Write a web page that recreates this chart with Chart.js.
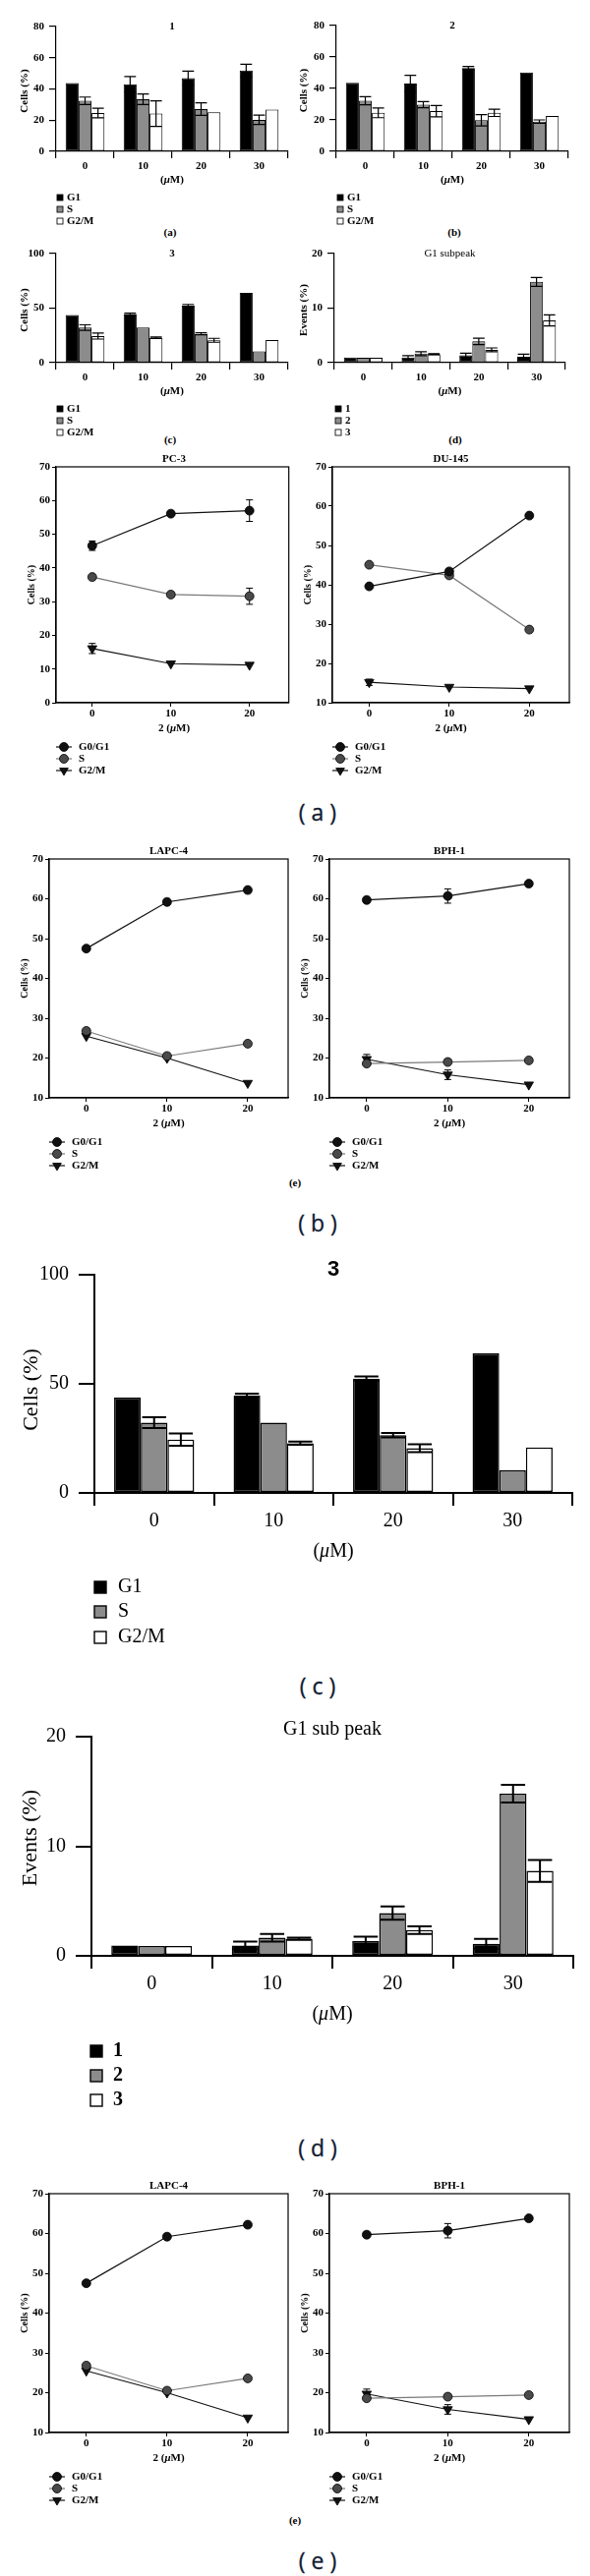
<!DOCTYPE html>
<html>
<head>
<meta charset="utf-8">
<script src="https://cdn.jsdelivr.net/npm/chart.js@4.4.1/dist/chart.umd.min.js"></script>
<style>
  body { margin: 0; width: 600px; height: 2621px; background: #fff; position: relative; overflow: hidden; }
  canvas { position: absolute; }
  .tag { position: absolute; transform: translate(-50%, -50%); white-space: nowrap; }
  .small { font: bold 11px "Liberation Serif", serif; color: #000; }
  .big { font: 23px "Open Sans", sans-serif; color: #101a33; -webkit-text-stroke: 0.3px #101a33; }
</style>
</head>
<body>
<div class="tag small" style="left:173px;top:236px">(a)</div>
<div class="tag small" style="left:462px;top:236px">(b)</div>
<div class="tag small" style="left:173px;top:447px">(c)</div>
<div class="tag small" style="left:463px;top:447px">(d)</div>
<div class="tag big" style="left:323px;top:826px">( a )</div>
<div class="tag small" style="left:300px;top:1203px">(e)</div>
<div class="tag big" style="left:323px;top:1244px">( b )</div>
<div class="tag big" style="left:323px;top:1715px">( c )</div>
<div class="tag big" style="left:323px;top:2185px">( d )</div>
<div class="tag small" style="left:300px;top:2564px">(e)</div>
<div class="tag big" style="left:323px;top:2605px">( e )</div>
<script>
// bar panels: dose groups and phases
const doses = ['0', '10', '20', '30'];
const phases = ['G1', 'S', 'G2/M'];
const compounds = ['1', '2', '3'];

// compound 1, cells (%)
const c1G1 = [43.8, 43.0, 47.0, 51.8];
const c1G1Err = [0, 5.0, 4.4, 4.0];
const c1S = [32.4, 33.4, 27.1, 20.2];
const c1SErr = [2.4, 3.4, 4.0, 3.0];
const c1G2M = [24.6, 24.2, 25.0, 26.7];
const c1G2MErr = [3.1, 8.2, 0, 0];

// compound 2
const c2G1 = [43.6, 43.2, 53.0, 50.1];
const c2G1Err = [0, 5.2, 1.0, 0];
const c2S = [32.2, 29.7, 19.8, 18.9];
const c2SErr = [2.6, 2.0, 3.6, 1.1];
const c2G2M = [24.5, 25.6, 24.5, 22.5];
const c2G2MErr = [3.1, 3.6, 2.3, 0];

// compound 3
const c3G1 = [43.7, 44.7, 52.4, 64.0];
const c3G1Err = [0, 0.8, 1.0, 0];
const c3S = [32.2, 32.2, 26.5, 10.4];
const c3SErr = [2.5, 0, 1.0, 0];
const c3G2M = [24.4, 22.8, 20.5, 20.8];
const c3G2MErr = [2.8, 0.7, 1.8, 0];

// G1 sub peak, events (%)
const sub1 = [0.95, 0.95, 1.35, 1.1];
const sub1Err = [0, 0.35, 0.4, 0.45];
const sub2 = [0.9, 1.65, 3.9, 14.8];
const sub2Err = [0, 0.35, 0.6, 0.8];
const sub3 = [0.9, 1.55, 2.35, 7.75];
const sub3Err = [0, 0.1, 0.35, 1.0];

// line panels: concentration of 2 (uM)
const conc = [0, 10, 20];
const linePhases = ['G0/G1', 'S', 'G2/M'];
const xTicks = [0, 10, 20];

const pc3G1 = [46.6, 56.1, 57.0];
const pc3G1Err = [1.4, 0, 3.2];
const pc3S = [37.3, 32.1, 31.6];
const pc3SErr = [0, 0.7, 2.4];
const pc3G2M = [16.1, 11.6, 11.2];
const pc3G2MErr = [1.5, 0, 0];

const du145G1 = [39.6, 43.4, 57.6];
const du145S = [45.1, 42.4, 28.6];
const du145G2M = [15.2, 14.0, 13.6];
const du145G2MErr = [0.8, 0, 0];

const lapc4G1 = [47.5, 59.2, 62.2];
const lapc4S = [26.8, 20.5, 23.6];
const lapc4G2M = [25.5, 20.0, 13.7];

const bph1G1 = [59.7, 60.7, 63.8];
const bph1G1Err = [0, 1.8, 0];
const bph1S = [18.6, 19.0, 19.4];
const bph1G2M = [19.7, 15.8, 13.3];
const bph1G2MErr = [1.2, 1.2, 0];

const SERIF = '"Liberation Serif", "DejaVu Serif", serif';
const FILLS = ['#000000', '#8c8c8c', '#ffffff'];
const LINE_COL = ['#111111', '#7a7a7a', '#111111'];
const MARK_COL = ['#111111', '#4a4a4a', '#111111'];

function place(box) {
    const c = document.createElement('canvas');
    c.width = box.w;
    c.height = box.h;
    c.style.left = box.x + 'px';
    c.style.top = box.y + 'px';
    document.body.appendChild(c);
    return c;
}

// text with an italic mu
function drawText(ctx, s, x, y, font, align, rot) {
    ctx.save();
    ctx.translate(x, y);
    if (rot) ctx.rotate(-Math.PI / 2);
    ctx.textBaseline = 'middle';
    ctx.textAlign = 'left';
    const segs = [];
    s.split('μ').forEach((p, i) => {
        if (i) segs.push(['μ', 'italic ' + font]);
        if (p) segs.push([p, font]);
    });
    let w = 0;
    segs.forEach(sg => { ctx.font = sg[1]; sg.push(ctx.measureText(sg[0]).width); w += sg[2]; });
    let cx = align === 'left' ? 0 : -w / 2;
    segs.forEach(sg => { ctx.font = sg[1]; ctx.fillText(sg[0], cx, 0); cx += sg[2]; });
    ctx.restore();
}

function drawMarker(ctx, tri, x, y, r, fill) {
    ctx.fillStyle = fill;
    ctx.strokeStyle = '#000';
    ctx.lineWidth = 0.8;
    ctx.beginPath();
    if (tri) {
        ctx.moveTo(x, y + r);
        ctx.lineTo(x - r * 0.87, y - r * 0.5);
        ctx.lineTo(x + r * 0.87, y - r * 0.5);
        ctx.closePath();
    } else {
        ctx.arc(x, y, r, 0, Math.PI * 2);
    }
    ctx.fill();
    ctx.stroke();
}

function drawErrors(chart, lw) {
    const ctx = chart.ctx, ys = chart.scales.y;
    ctx.save();
    ctx.strokeStyle = '#000';
    ctx.lineWidth = lw;
    chart.data.datasets.forEach((ds, i) => {
        if (!ds.errors) return;
        chart.getDatasetMeta(i).data.forEach((el, j) => {
            const e = ds.errors[j];
            if (!e) return;
            const d = ds.data[j];
            const v = typeof d === 'object' ? d.y : d;
            const top = ys.getPixelForValue(v + e), bot = ys.getPixelForValue(v - e);
            const half = el.width ? el.width * 0.45 : 3.5;
            ctx.beginPath();
            ctx.moveTo(el.x, top); ctx.lineTo(el.x, bot);
            ctx.moveTo(el.x - half, top); ctx.lineTo(el.x + half, top);
            ctx.moveTo(el.x - half, bot); ctx.lineTo(el.x + half, bot);
            ctx.stroke();
        });
    });
    ctx.restore();
}

// titles, axis titles, legend and error bars
function extras(box, o) {
    return {
        id: 'extras',
        beforeDatasetsDraw(chart) { if (o.line) drawErrors(chart, 1); },
        afterDatasetsDraw(chart) { if (!o.line) drawErrors(chart, o.lw); },
        afterDraw(chart) {
            const ctx = chart.ctx, a = chart.chartArea;
            ctx.save();
            if (o.line) {
                ctx.strokeStyle = '#000';
                ctx.lineWidth = 1.2;
                ctx.strokeRect(a.left, a.top, a.right - a.left, a.bottom - a.top);
            }
            ctx.translate(-box.x, -box.y);
            ctx.fillStyle = '#000';
            o.texts.forEach(t => drawText(ctx, t[0], t[1], t[2], t[3], 'center', t[4]));
            const lg = o.legend;
            lg.names.forEach((n, i) => {
                const y = lg.ys[i];
                if (o.line) {
                    ctx.strokeStyle = LINE_COL[i];
                    ctx.lineWidth = 1.2;
                    ctx.beginPath(); ctx.moveTo(lg.x, y); ctx.lineTo(lg.x + 16, y); ctx.stroke();
                    drawMarker(ctx, i === 2, lg.x + 8, y, i === 2 ? 5 : 4.5, MARK_COL[i]);
                } else {
                    ctx.fillStyle = FILLS[i];
                    ctx.strokeStyle = '#000';
                    ctx.lineWidth = o.lw * 0.7;
                    ctx.fillRect(lg.x, y - lg.size / 2, lg.size, lg.size);
                    ctx.strokeRect(lg.x, y - lg.size / 2, lg.size, lg.size);
                }
                ctx.fillStyle = '#000';
                drawText(ctx, n, lg.tx, y, lg.font, 'left');
            });
            ctx.restore();
        }
    };
}

function fixedLayout(box, area) {
    return {
        padding: { top: area.t - box.y, right: box.x + box.w - area.r, left: 0, bottom: 0 },
        yWidth: area.l - box.x,
        xHeight: box.y + box.h - area.b
    };
}

const SMALL = { tick: { family: SERIF, size: 11, weight: 'bold' }, lw: 1.2, bw: 1, tlx: 7, tly: 7, xpad: 2, ypad: 5 };
const BIG = { tick: { family: SERIF, size: 20 }, lw: 2, bw: 1.5, tlx: 13, tly: 16, xpad: 4, ypad: 10 };

function makeBar(box, area, st, o) {
    const L = fixedLayout(box, area);
    o.lw = st.lw;
    const sets = o.series.map((s, i) => ({
        label: o.legend.names[i],
        data: s,
        errors: o.errors[i],
        backgroundColor: FILLS[i],
        borderColor: '#000',
        borderWidth: st.bw,
        borderSkipped: false,
        categoryPercentage: 0.67,
        barPercentage: 1
    }));
    new Chart(place(box), {
        type: 'bar',
        data: { labels: doses, datasets: sets },
        options: {
            responsive: false, animation: false, devicePixelRatio: 1,
            layout: { padding: L.padding },
            plugins: { legend: { display: false }, tooltip: { enabled: false } },
            scales: {
                x: {
                    offset: true,
                    grid: { offset: true, drawOnChartArea: false, tickLength: st.tlx, color: '#000', lineWidth: st.lw },
                    border: { color: '#000', width: st.lw },
                    ticks: { color: '#000', font: st.tick, padding: st.xpad, maxRotation: 0 },
                    afterFit: s => { s.height = L.xHeight; }
                },
                y: {
                    min: 0, max: o.ymax,
                    ticks: { stepSize: o.step, color: '#000', font: st.tick, padding: st.ypad },
                    grid: { drawOnChartArea: false, tickLength: st.tly, color: '#000', lineWidth: st.lw },
                    border: { color: '#000', width: st.lw },
                    afterFit: s => { s.width = L.yWidth; }
                }
            }
        },
        plugins: [extras(box, o)]
    });
}

function makeLine(box, area, o) {
    const L = fixedLayout(box, area);
    const F = 'bold 11px ' + SERIF;
    o.line = true;
    const mid = (area.l + area.r) / 2;
    o.texts = [
        [o.title, mid, area.t - 8, F],
        ['2 (μM)', mid, area.b + 26, F],
        ['Cells (%)', area.l - 25, (area.t + area.b) / 2, 'bold 10px ' + SERIF, true]
    ];
    o.legend = { names: linePhases, x: area.l, tx: area.l + 23, ys: [area.b + 45, area.b + 57, area.b + 69], font: F };
    const sets = o.series.map((s, i) => ({
        label: linePhases[i],
        data: conc.map((c, j) => ({ x: c, y: s[j] })),
        errors: o.errors[i],
        borderColor: LINE_COL[i],
        borderWidth: 1.2,
        pointStyle: i === 2 ? 'triangle' : 'circle',
        pointRotation: i === 2 ? 180 : 0,
        pointRadius: i === 2 ? 5.5 : 4.5,
        pointBackgroundColor: MARK_COL[i],
        pointBorderColor: '#000',
        pointBorderWidth: 0.8
    }));
    const tick = { family: SERIF, size: 11, weight: 'bold' };
    new Chart(place(box), {
        type: 'line',
        data: { datasets: sets },
        options: {
            responsive: false, animation: false, devicePixelRatio: 1,
            layout: { padding: L.padding },
            plugins: { legend: { display: false }, tooltip: { enabled: false } },
            scales: {
                x: {
                    type: 'linear', min: -4.6, max: 25,
                    afterBuildTicks: s => { s.ticks = xTicks.map(v => ({ value: v })); },
                    grid: { drawOnChartArea: false, tickLength: 4, color: '#000' },
                    border: { color: '#000', width: 1.2 },
                    ticks: { color: '#000', font: tick, padding: 1 },
                    afterFit: s => { s.height = L.xHeight; }
                },
                y: {
                    min: o.ymin, max: 70,
                    ticks: { stepSize: 10, color: '#000', font: tick, padding: 2 },
                    grid: { drawOnChartArea: false, tickLength: 4, color: '#000' },
                    border: { color: '#000', width: 1.2 },
                    afterFit: s => { s.width = L.yWidth; }
                }
            }
        },
        plugins: [extras(box, o)]
    });
}

const SB = 'bold 11px ' + SERIF;

// top row of small bar panels
function smallTexts(area, title, tFont, yTitle, yx) {
    const mid = (area.l + area.r) / 2;
    return [
        [title, mid, area.t, tFont],
        ['(μM)', mid, area.b + 29, SB],
        [yTitle, yx, (area.t + area.b) / 2 + 2, SB, true]
    ];
}
function smallLegend(area, names) {
    return { names: names, x: area.l + 1, tx: area.l + 11, size: 6, ys: [area.b + 47, area.b + 59, area.b + 71], font: SB };
}

let A = { l: 57, t: 27, r: 293, b: 154 };
makeBar({ x: 0, y: 14, w: 300, h: 218 }, A, SMALL, {
    series: [c1G1, c1S, c1G2M], errors: [c1G1Err, c1SErr, c1G2MErr], ymax: 80, step: 20,
    texts: smallTexts(A, '1', SB, 'Cells (%)', 25), legend: smallLegend(A, phases)
});
A = { l: 342, t: 26, r: 578, b: 154 };
makeBar({ x: 300, y: 14, w: 300, h: 218 }, A, SMALL, {
    series: [c2G1, c2S, c2G2M], errors: [c2G1Err, c2SErr, c2G2MErr], ymax: 80, step: 20,
    texts: smallTexts(A, '2', SB, 'Cells (%)', 309), legend: smallLegend(A, phases)
});
A = { l: 57, t: 258, r: 293, b: 369 };
makeBar({ x: 0, y: 244, w: 300, h: 205 }, A, SMALL, {
    series: [c3G1, c3S, c3G2M], errors: [c3G1Err, c3SErr, c3G2MErr], ymax: 100, step: 50,
    texts: smallTexts(A, '3', SB, 'Cells (%)', 25), legend: smallLegend(A, phases)
});
A = { l: 340, t: 258, r: 575, b: 369 };
makeBar({ x: 300, y: 244, w: 300, h: 205 }, A, SMALL, {
    series: [sub1, sub2, sub3], errors: [sub1Err, sub2Err, sub3Err], ymax: 20, step: 10,
    texts: smallTexts(A, 'G1 subpeak', '11px ' + SERIF, 'Events (%)', 309), legend: smallLegend(A, compounds)
});

// (a) PC-3 and DU-145
makeLine({ x: 0, y: 455, w: 300, h: 340 }, { l: 57, t: 475, r: 297, b: 715 }, {
    title: 'PC-3', ymin: 0,
    series: [pc3G1, pc3S, pc3G2M], errors: [pc3G1Err, pc3SErr, pc3G2MErr]
});
makeLine({ x: 300, y: 455, w: 300, h: 340 }, { l: 338, t: 475, r: 579, b: 715 }, {
    title: 'DU-145', ymin: 10,
    series: [du145G1, du145S, du145G2M], errors: [null, null, du145G2MErr]
});

// (b) and (e) LAPC-4 and BPH-1
[855, 2213].forEach(top => {
    const t = top + 19, b = top + 262;
    makeLine({ x: 0, y: top, w: 300, h: 345 }, { l: 50, t: t, r: 293, b: b }, {
        title: 'LAPC-4', ymin: 10,
        series: [lapc4G1, lapc4S, lapc4G2M], errors: [null, null, null]
    });
    makeLine({ x: 300, y: top, w: 300, h: 345 }, { l: 335, t: t, r: 579, b: b }, {
        title: 'BPH-1', ymin: 10,
        series: [bph1G1, bph1S, bph1G2M], errors: [bph1G1Err, null, bph1G2MErr]
    });
});

// (c) compound 3, large
const BR = '20px ' + SERIF;
A = { l: 96, t: 1292, r: 582, b: 1519 };
makeBar({ x: 0, y: 1275, w: 600, h: 410 }, A, BIG, {
    series: [c3G1, c3S, c3G2M], errors: [c3G1Err, c3SErr, c3G2MErr], ymax: 100, step: 50,
    texts: [
        ['3', 339, 1292, 'bold 22px "Liberation Sans", sans-serif'],
        ['(μM)', 339, 1579, BR],
        ['Cells (%)', 32, 1414, '22px ' + SERIF, true]
    ],
    legend: { names: phases, x: 96, tx: 120, size: 12, ys: [1615, 1640, 1666], font: BR }
});

// (d) G1 sub peak, large
A = { l: 93, t: 1761, r: 583, b: 1990 };
makeBar({ x: 0, y: 1745, w: 600, h: 405 }, A, BIG, {
    series: [sub1, sub2, sub3], errors: [sub1Err, sub2Err, sub3Err], ymax: 20, step: 10,
    texts: [
        ['G1 sub peak', 338, 1760, BR],
        ['(μM)', 338, 2050, BR],
        ['Events (%)', 31, 1870, '22px ' + SERIF, true]
    ],
    legend: { names: compounds, x: 92, tx: 115, size: 12, ys: [2087, 2112, 2137], font: 'bold 20px ' + SERIF }
});
</script>
</body>
</html>
